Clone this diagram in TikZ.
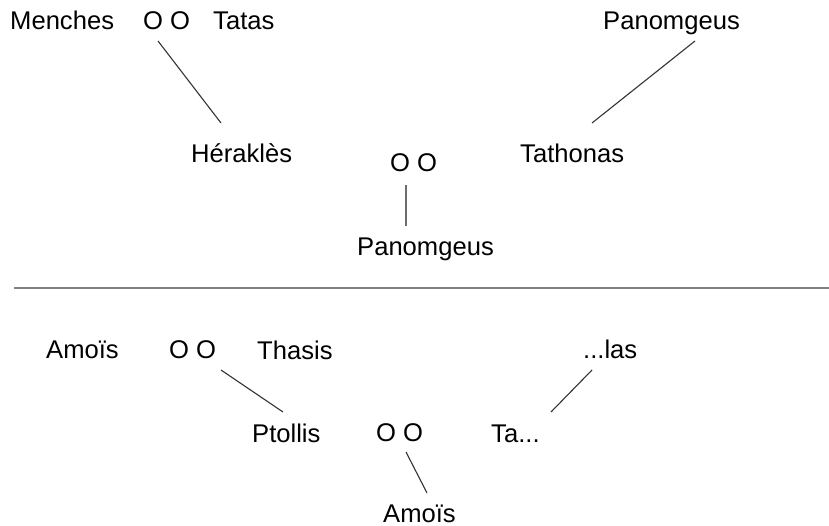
\documentclass[tikz,border=0pt]{standalone}
\usepackage{fontspec}
\setmainfont{Liberation Sans}
\definecolor{linegray}{HTML}{333333}
\definecolor{rulegray}{HTML}{808080}
\begin{document}
\begin{tikzpicture}[x=1pt,y=1pt,
  lbl/.style={inner sep=0pt,anchor=base west,font=\fontsize{25.6}{30}\selectfont,text=black},
  link/.style={draw=linegray,line width=1.1pt},
  vlink/.style={draw=rulegray!85!black,line width=1.5pt},
  sep/.style={draw=rulegray,line width=2.6pt}]
\useasboundingbox (0,0) rectangle (829,-526);
% top section
\node[lbl] (men)  at (10,-30)  {Menches};
\node[lbl] (oo1)  at (143,-30) {O O};
\node[lbl] (tats) at (213,-30) {Tatas};
\node[lbl] (pan1) at (603,-30) {Panomgeus};
\node[lbl] (her)  at (191,-163) {Héraklès};
\node[lbl] (oo2)  at (390,-172) {O O};
\node[lbl] (tat)  at (520,-163) {Tathonas};
\node[lbl] (pan2) at (357,-256) {Panomgeus};
\draw[link] ([shift={(15,-11)}]oo1.base west) -- ([shift={(30,40)}]her.base west);
\draw[link] ([shift={(92,-11)}]pan1.base west) -- ([shift={(72,40)}]tat.base west);
\draw[vlink] ([shift={(16,-13)}]oo2.base west) -- ([shift={(49,30)}]pan2.base west);
% separator
\coordinate (sepL) at (14,-288);
\coordinate (sepR) at (829,-288);
\draw[sep] (sepL) -- (sepR);
% bottom section
\node[lbl] (amo1) at (46,-358)  {Amoïs};
\node[lbl] (oo3)  at (169,-358) {O O};
\node[lbl] (tha)  at (257,-359) {Thasis};
\node[lbl] (las)  at (583,-358) {...las};
\node[lbl] (pto)  at (252,-442) {Ptollis};
\node[lbl] (oo4)  at (376,-441) {O O};
\node[lbl] (ta)   at (491,-442) {Ta...};
\node[lbl] (amo2) at (383,-522) {Amoïs};
\draw[link] ([shift={(52,-12)}]oo3.base west) -- ([shift={(31,30)}]pto.base west);
\draw[link] ([shift={(9,-12)}]las.base west) -- ([shift={(60,30)}]ta.base west);
\draw[link] ([shift={(30,-11)}]oo4.base west) -- ([shift={(44,29)}]amo2.base west);
\end{tikzpicture}
\end{document}
